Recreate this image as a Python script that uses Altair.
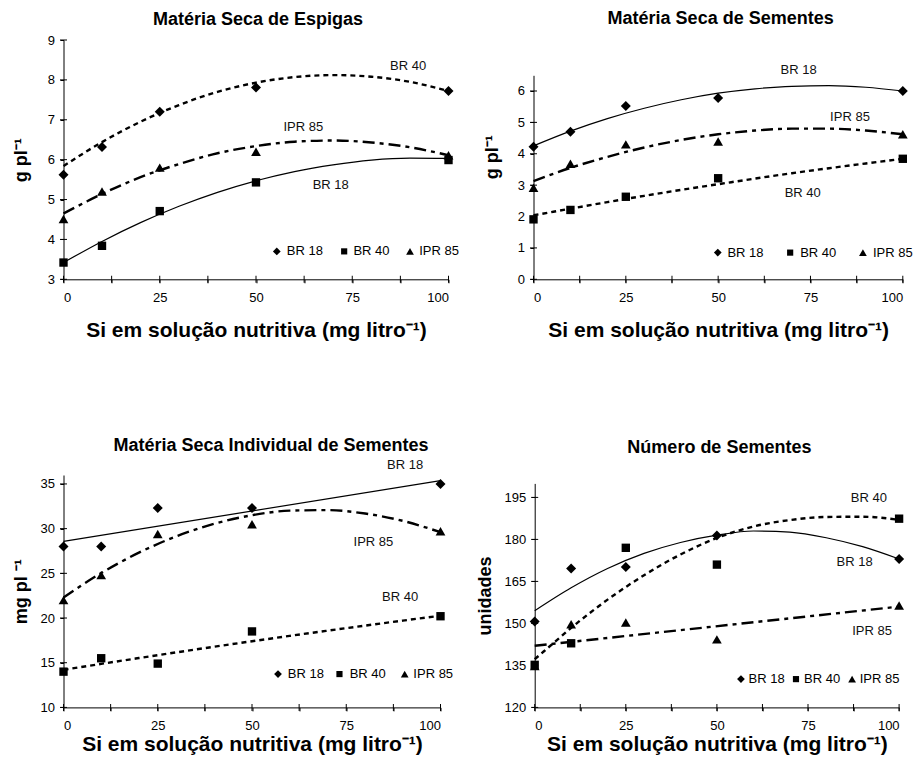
import altair as alt
import pandas as pd

FONT = "Liberation Sans"
SERIES = ["BR 18", "BR 40", "IPR 85"]
X_PTS = [0, 10, 25, 50, 100]
X_CURVE = [0, 10, 20, 30, 40, 50, 60, 70, 80, 90, 100]
X_LINEAR = [0, 100]
X_CURVE_FINE = [0, 5, 10, 15, 20, 25, 30, 40, 50, 60, 70, 80, 90, 100]
X_TICKS = [0, 12.5, 25, 37.5, 50, 62.5, 75, 87.5, 100]
X_TITLE = "Si em solução nutritiva (mg litro⁻¹)"

# ---------- Panel 1: Matéria Seca de Espigas ----------
p1_br18 = [5.62, 6.32, 7.20, 7.81, 7.72]
p1_br40 = [3.42, 3.84, 4.71, 5.43, 5.99]
p1_ipr85 = [4.51, 5.20, 5.80, 6.20, 6.11]
p1_fit_br18 = [3.42, 3.95, 4.42, 4.83, 5.18, 5.47, 5.70, 5.87, 5.99, 6.04, 6.03]
p1_fit_br40 = [5.84, 6.44, 6.95, 7.37, 7.70, 7.93, 8.07, 8.12, 8.08, 7.95, 7.72]
p1_fit_ipr85 = [4.65, 5.14, 5.56, 5.89, 6.16, 6.34, 6.45, 6.48, 6.43, 6.31, 6.11]
p1_label_text = ["BR 40", "IPR 85", "BR 18"]
p1_label_x = [89.5, 62.3, 69.4]
p1_label_y = [8.35, 6.82, 5.36]
p1_leg_sym_x = [55.4, 72.9, 90.0]
p1_leg_txt_x = [58.0, 75.3, 92.4]
p1_leg_y = 3.7

# ---------- Panel 2: Matéria Seca de Sementes ----------
p2_br18 = [4.22, 4.70, 5.52, 5.78, 6.00]
p2_br40 = [1.91, 2.21, 2.63, 3.22, 3.84]
p2_ipr85 = [2.92, 3.68, 4.30, 4.39, 4.62]
p2_fit_br18 = [4.25, 4.72, 5.12, 5.45, 5.72, 5.93, 6.07, 6.15, 6.17, 6.12, 6.00]
p2_fit_br40 = [2.04, 2.25, 2.46, 2.66, 2.85, 3.03, 3.21, 3.38, 3.54, 3.69, 3.84]
p2_fit_ipr85 = [3.13, 3.55, 3.90, 4.20, 4.44, 4.62, 4.74, 4.80, 4.80, 4.74, 4.62]
p2_label_text = ["BR 18", "IPR 85", "BR 40"]
p2_label_x = [71.8, 85.7, 72.9]
p2_label_y = [6.66, 5.18, 2.76]
p2_leg_sym_x = [49.9, 69.5, 89.2]
p2_leg_txt_x = [52.5, 72.2, 91.9]
p2_leg_y = 0.85

# ---------- Panel 3: Matéria Seca Individual de Sementes ----------
p3_br18 = [28.0, 28.0, 32.3, 32.3, 35.0]
p3_br40 = [14.0, 15.5, 14.9, 18.5, 20.2]
p3_ipr85 = [22.0, 24.8, 29.4, 30.5, 29.7]
p3_fit_br18 = [28.58, 35.37]
p3_fit_br40 = [14.2, 14.87, 15.52, 16.16, 16.79, 17.4, 18.0, 18.58, 19.15, 19.71, 20.25]
p3_fit_ipr85 = [22.3, 25.03, 27.31, 29.15, 30.55, 31.5, 32.01, 32.07, 31.69, 30.87, 29.6]
p3_label_text = ["BR 18", "IPR 85", "BR 40"]
p3_label_x = [90.6, 82.2, 89.3]
p3_label_y = [37.13, 28.47, 22.31]
p3_leg_sym_x = [56.9, 73.2, 90.5]
p3_leg_txt_x = [59.5, 75.9, 92.8]
p3_leg_y = 13.73

# ---------- Panel 4: Número de Sementes ----------
p4_br18 = [150.7, 169.6, 170.1, 181.4, 173.0]
p4_br40 = [135.2, 142.9, 177.0, 171.0, 187.4]
p4_ipr85 = [134.8, 149.7, 150.3, 144.3, 156.4]
p4_fit_br18 = [154.5, 162.7, 169.6, 175.0, 178.9, 181.5, 183.0, 182.6, 180.6, 177.4, 173.0]
p4_fit_br40 = [137.2, 142.8, 148.4, 153.6, 158.5, 163.0, 167.2, 174.6, 180.5, 184.6, 186.9, 188.0, 188.1, 187.0]
p4_fit_ipr85 = [142.0, 156.0]
p4_label_text = ["BR 40", "BR 18", "IPR 85"]
p4_label_x = [91.7, 87.8, 92.6]
p4_label_y = [194.8, 172.0, 147.3]
p4_leg_sym_x = [56.6, 71.7, 87.1]
p4_leg_txt_x = [58.7, 73.9, 89.2]
p4_leg_y = 130.1

LINE_STYLE = {
    "BR 18": dict(strokeWidth=1.2),
    "BR 40": dict(strokeWidth=2.4, strokeDash=[5, 4]),
    "IPR 85": dict(strokeWidth=2.4, strokeDash=[12, 5, 4, 5]),
}
MARKER = {"BR 18": ("diamond", 100), "BR 40": ("square", 70), "IPR 85": ("triangle-up", 95)}
LEG_MARKER = {"BR 18": ("diamond", 60), "BR 40": ("square", 38), "IPR 85": ("triangle-up", 60)}


def points_df(br18, br40, ipr85):
    rows = []
    for name, vals in zip(SERIES, [br18, br40, ipr85]):
        for x, y in zip(X_PTS, vals):
            rows.append({"x": x, "y": y, "s": name})
    return pd.DataFrame(rows)


def curve_df(fits):
    rows = []
    for name, (xs, ys) in fits.items():
        for x, y in zip(xs, ys):
            rows.append({"x": x, "y": y, "c": name})
    return pd.DataFrame(rows)


def labels_df(t, x, y):
    return pd.DataFrame({"t": t, "x": x, "y": y})


def legend_df(xs, y):
    return pd.DataFrame({"s": SERIES, "x": xs, "y": [y] * len(SERIES)})


def panel(title, ytitle, ydomain, yticks, width, height, yrange, pts, curves, labels,
          leg_sym, leg_txt, title_offset, title_dx, ytp, xtp, ytitle_y=None):
    xscale = alt.Scale(domain=[0, 100], nice=False, zero=False)
    yscale = alt.Scale(domain=ydomain, range=yrange, nice=False, zero=False)
    xaxis = alt.Axis(values=X_TICKS, labelExpr="datum.value % 25 === 0 ? datum.label : ''",
                     title=X_TITLE, titleFontSize=21, titlePadding=xtp, labelPadding=8.5,
                     labelAngle=0)
    yargs = dict(values=yticks, title=ytitle, titleFontSize=18, titlePadding=ytp,
                 labelPadding=5.5)
    if ytitle_y is not None:
        yargs["titleY"] = ytitle_y
    yaxis = alt.Axis(**yargs)
    X = alt.X("x:Q", scale=xscale, axis=xaxis)
    Y = alt.Y("y:Q", scale=yscale, axis=yaxis)

    layers = []
    # tick marks crossing the axis lines (inner half of each tick)
    xt = pd.DataFrame({"x": X_TICKS, "y": [ydomain[0]] * len(X_TICKS)})
    yt = pd.DataFrame({"x": [0] * len(yticks), "y": yticks})
    layers.append(alt.Chart(xt).mark_tick(orient="vertical", size=7, thickness=1,
                                          color="black", opacity=1, clip=False)
                  .encode(x=X, y=Y))
    layers.append(alt.Chart(yt).mark_tick(orient="horizontal", size=7, thickness=1,
                                          color="black", opacity=1, clip=False)
                  .encode(x=X, y=Y))
    for name in SERIES:
        layers.append(
            alt.Chart(curves).transform_filter(alt.datum.c == name)
            .mark_line(color="black", interpolate="monotone", clip=False, **LINE_STYLE[name])
            .encode(x=X, y=Y)
        )
    for name in SERIES:
        shape, size = MARKER[name]
        layers.append(
            alt.Chart(pts).transform_filter(alt.datum.s == name)
            .mark_point(filled=True, color="black", opacity=1, clip=False, shape=shape, size=size)
            .encode(x=X, y=Y)
        )
    layers.append(
        alt.Chart(labels).mark_text(fontSize=13, font=FONT, color="#111", align="center",
                                    baseline="middle", clip=False)
        .encode(x=X, y=Y, text="t:N")
    )
    # legend (inside the plot, bottom right)
    for name in SERIES:
        shape, size = LEG_MARKER[name]
        layers.append(
            alt.Chart(leg_sym).transform_filter(alt.datum.s == name)
            .mark_point(filled=True, color="black", opacity=1, clip=False, shape=shape, size=size)
            .encode(x=X, y=Y)
        )
    layers.append(
        alt.Chart(leg_txt).mark_text(fontSize=13, font=FONT, color="black", align="left",
                                     baseline="middle", clip=False)
        .encode(x=X, y=Y, text="s:N")
    )
    return alt.layer(*layers).properties(
        width=width, height=height,
        title=alt.TitleParams(title, fontSize=18, font=FONT, fontWeight="bold",
                              anchor="middle", frame="group", offset=title_offset,
                              dx=title_dx, color="black"),
    )


p1 = panel("Matéria Seca de Espigas", "g pl⁻¹", [3, 9], [3, 4, 5, 6, 7, 8, 9],
           385, 239.3, [239.3, 0],
           points_df(p1_br18, p1_br40, p1_ipr85),
           curve_df({"BR 18": (X_CURVE, p1_fit_br18), "BR 40": (X_CURVE, p1_fit_br40),
                     "IPR 85": (X_CURVE, p1_fit_ipr85)}),
           labels_df(p1_label_text, p1_label_x, p1_label_y),
           legend_df(p1_leg_sym_x, p1_leg_y), legend_df(p1_leg_txt_x, p1_leg_y),
           5.5, 2, 17.2, 15)

p2 = panel("Matéria Seca de Sementes", "g pl⁻¹", [0, 6.5], [0, 1, 2, 3, 4, 5, 6],
           369.3, 239.3, [239.3, 35.3],
           points_df(p2_br18, p2_br40, p2_ipr85),
           curve_df({"BR 18": (X_CURVE, p2_fit_br18), "BR 40": (X_CURVE, p2_fit_br40),
                     "IPR 85": (X_CURVE, p2_fit_ipr85)}),
           labels_df(p2_label_text, p2_label_x, p2_label_y),
           legend_df(p2_leg_sym_x, p2_leg_y), legend_df(p2_leg_txt_x, p2_leg_y),
           12, 2.5, 16.2, 15, ytitle_y=116.8)

p3 = panel("Matéria Seca Individual de Sementes", "mg pl ⁻¹", [10, 36],
           [10, 15, 20, 25, 30, 35], 377, 232.4, [232.4, 0],
           points_df(p3_br18, p3_br40, p3_ipr85),
           curve_df({"BR 18": (X_LINEAR, p3_fit_br18), "BR 40": (X_CURVE, p3_fit_br40),
                     "IPR 85": (X_CURVE, p3_fit_ipr85)}),
           labels_df(p3_label_text, p3_label_x, p3_label_y),
           legend_df(p3_leg_sym_x, p3_leg_y), legend_df(p3_leg_txt_x, p3_leg_y),
           3.5, 19, 9.3, 1)

p4 = panel("Número de Sementes", "unidades", [120, 200], [120, 135, 150, 165, 180, 195],
           364.4, 232.4, [232.4, 8.4],
           points_df(p4_br18, p4_br40, p4_ipr85),
           curve_df({"BR 18": (X_CURVE, p4_fit_br18), "BR 40": (X_CURVE_FINE, p4_fit_br40),
                     "IPR 85": (X_LINEAR, p4_fit_ipr85)}),
           labels_df(p4_label_text, p4_label_x, p4_label_y),
           legend_df(p4_leg_sym_x, p4_leg_y), legend_df(p4_leg_txt_x, p4_leg_y),
           17.6, 2.5, 9.6, 1)

row1 = alt.hconcat(p1, p2, spacing=23)
row2 = alt.hconcat(p3, p4, spacing=22.2)

chart = (
    alt.vconcat(row1, row2, spacing=96)
    .properties(padding={"left": 3.5, "top": 2, "right": 0, "bottom": 0})
    .configure_view(stroke=None)
    .configure_axis(domainColor="black", tickColor="black", labelColor="black",
                    titleColor="black", grid=False, labelFont=FONT, titleFont=FONT,
                    labelFontSize=13, titleFontWeight="bold", tickSize=3.5, domainWidth=1,
                    tickWidth=1)
)

chart.save("out.html", embed_options={"renderer": "svg", "actions": False})
